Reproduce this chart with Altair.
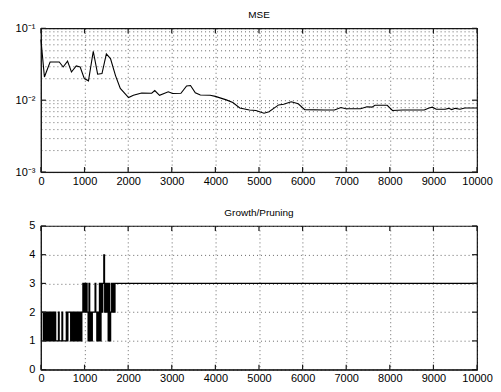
import altair as alt
import pandas as pd

mse_iter = [0, 80, 210, 420, 510, 610, 700, 810, 900, 995, 1090, 1200, 1300, 1400,
            1500, 1595, 1710, 1820, 2010, 2120, 2310, 2540, 2610, 2720, 2920, 3020,
            3210, 3340, 3430, 3540, 3655, 3880, 4000, 4250, 4400, 4560, 4780, 4930,
            5115, 5230, 5450, 5565, 5740, 5900, 6050, 6500, 6730, 6880, 6990, 7140,
            7330, 7475, 7590, 7660, 7940, 8060, 8300, 8790, 8900, 8975, 9065, 9270,
            9350, 9420, 9500, 9610, 9720, 10000]
mse_val = [0.070, 0.021, 0.034, 0.034, 0.029, 0.035, 0.0247, 0.030, 0.029, 0.020,
           0.0186, 0.048, 0.023, 0.0235, 0.044, 0.038, 0.022, 0.0146, 0.0109, 0.0117,
           0.0126, 0.0125, 0.0136, 0.0117, 0.0131, 0.0124, 0.0125, 0.0158, 0.0160,
           0.0127, 0.0118, 0.0117, 0.0113, 0.0101, 0.0093, 0.0078, 0.0073, 0.0072,
           0.0066, 0.0069, 0.0086, 0.0088, 0.0095, 0.0089, 0.0074, 0.0073, 0.0073,
           0.0079, 0.0076, 0.0076, 0.0076, 0.0081, 0.0080, 0.0085, 0.0085, 0.0072,
           0.0073, 0.0073, 0.0078, 0.0080, 0.0075, 0.0075, 0.0077, 0.0074, 0.0077,
           0.0075, 0.0078, 0.0078]

gp_iter = [0, 20, 40, 60, 80, 100, 120, 140, 160, 180, 200, 220, 240, 260, 280, 300,
           320, 340, 360, 380, 400, 420, 440, 460, 480, 500, 520, 540, 560, 580, 600,
           620, 640, 660, 680, 700, 720, 740, 760, 780, 800, 820, 840, 860, 880, 900,
           920, 940, 960, 980, 1000, 1020, 1040, 1060, 1080, 1100, 1120, 1140, 1160,
           1180, 1200, 1220, 1240, 1260, 1280, 1300, 1320, 1340, 1360, 1380, 1400,
           1420, 1440, 1460, 1480, 1500, 1520, 1540, 1560, 1580, 1600, 1620, 1640,
           1660, 1680, 1700, 10000]
gp_val = [1, 2, 2, 1, 2, 1, 2, 1, 2, 1, 2, 1, 2, 1, 2, 1,
          2, 1, 1, 1, 2, 1, 1, 1, 2, 1, 1, 1, 1, 2, 1,
          2, 2, 2, 1, 2, 1, 2, 1, 2, 1, 2, 1, 2, 1, 2,
          1, 2, 3, 2, 3, 2, 3, 2, 1, 3, 1, 2, 1,
          2, 2, 2, 3, 2, 1, 2, 1, 3, 1, 3, 2,
          3, 4, 2, 3, 2, 3, 1, 3, 1, 2, 3, 2,
          3, 2, 3, 3]

x_ticks = [0, 1000, 2000, 3000, 4000, 5000, 6000, 7000, 8000, 9000, 10000]
log_grid = [0.001, 0.002, 0.003, 0.004, 0.005, 0.006, 0.007, 0.008, 0.009,
            0.01, 0.02, 0.03, 0.04, 0.05, 0.06, 0.07, 0.08, 0.09, 0.1]
log_major = [0.001, 0.01, 0.1]
lin_ticks = [0, 1, 2, 3, 4, 5]

W, H = 437, 144
FONT = "Liberation Sans"
EDGE = "#1a1a1a"

mse_df = pd.DataFrame({"it": mse_iter, "v": mse_val})
gp_df = pd.DataFrame({"it": gp_iter, "v": gp_val})
xt_df = pd.DataFrame({"it": x_ticks})
ylog_df = pd.DataFrame({"v": log_major})
ylin_df = pd.DataFrame({"v": lin_ticks})

grid_kw = dict(grid=True, gridDash=[1, 3], gridColor="black", gridOpacity=0.6)
lab_kw = dict(labelFontSize=11, labelFont=FONT, labelColor="black", labelOverlap=False)

xscale = alt.Scale(domain=[0, 10000], nice=False, zero=False)
xaxis = alt.Axis(values=x_ticks, title=None, ticks=False, format="d",
                 domain=True, domainColor=EDGE, domainWidth=1,
                 labelPadding=3, labelFlush=False, **lab_kw, **grid_kw)

yscale_log = alt.Scale(type="log", domain=[0.001, 0.1], nice=False)
ylog_axis = alt.Axis(values=log_grid, title=None, ticks=False,
                     domain=True, domainColor=EDGE, domainWidth=1,
                     labelPadding=6, **lab_kw, **grid_kw,
                     labelExpr="datum.value > 0.09 ? '10⁻¹' : (datum.value > 0.0099 && datum.value < 0.0101) ? '10⁻²' : datum.value < 0.00101 ? '10⁻³' : ''")

yscale_lin = alt.Scale(domain=[0, 5], nice=False, zero=False)
ylin_axis = alt.Axis(values=lin_ticks, title=None, ticks=False,
                     domain=True, domainColor=EDGE, domainWidth=1,
                     labelPadding=6, **lab_kw, **grid_kw)

SW = 1.2


def panel(df, yscale, yaxis, ytick_df, title, interp):
    X = lambda: alt.X("it:Q", scale=xscale, axis=xaxis)
    Y = lambda f: alt.Y(f, scale=yscale, axis=yaxis)
    line = alt.Chart(df).mark_line(color="black", strokeWidth=1.1, interpolate=interp).encode(
        x=X(), y=Y("v:Q"))
    rb = alt.Chart(xt_df).mark_rule(color=EDGE, strokeWidth=SW)
    xt_bot = rb.encode(x=X(), y=alt.value(H - 5), y2=alt.value(H))
    xt_top = rb.encode(x=X(), y=alt.value(0), y2=alt.value(5))
    ry = alt.Chart(ytick_df).mark_rule(color=EDGE, strokeWidth=SW)
    yt_left = ry.encode(y=Y("v:Q"), x=alt.value(0), x2=alt.value(5))
    yt_right = ry.encode(y=Y("v:Q"), x=alt.value(W - 5), x2=alt.value(W))
    return alt.layer(line, xt_bot, xt_top, yt_left, yt_right).properties(
        width=W, height=H,
        title=alt.TitleParams(title, fontSize=10, fontWeight="normal", font=FONT,
                              color="black", offset=2, frame="group"))


top_chart = panel(mse_df, yscale_log, ylog_axis, ylog_df, "MSE", "linear")
bottom_chart = panel(gp_df, yscale_lin, ylin_axis, ylin_df, "Growth/Pruning", "step-after")

chart = alt.vconcat(top_chart, bottom_chart, spacing=20).configure(
    background="white",
    padding={"left": 6, "top": 1, "right": 0, "bottom": -2},
    view=alt.ViewConfig(stroke=EDGE, strokeWidth=SW),
)

chart.save("out.html", embed_options={"renderer": "svg", "actions": False})
